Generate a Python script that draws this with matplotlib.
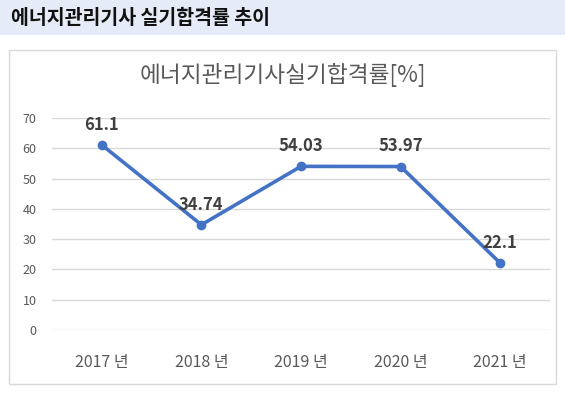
import matplotlib
matplotlib.use('Agg')
import matplotlib.pyplot as plt
from matplotlib.patches import Rectangle

plt.rcParams['font.family'] = ['Noto Sans CJK KR', 'DejaVu Sans']

# ── Data ─────────────────────────────────────────────────────────────────────
years = ['2017 년', '2018 년', '2019 년', '2020 년', '2021 년']
pass_rate = [61.1, 34.74, 54.03, 53.97, 22.1]
rate_labels = ['61.1', '34.74', '54.03', '53.97', '22.1']
y_ticks = [0, 10, 20, 30, 40, 50, 60, 70]

W, H = 565, 396
fig = plt.figure(figsize=(W / 100, H / 100), dpi=100)

# header band
fig.patches.append(Rectangle((0, 1 - 35 / H), 1, 35 / H, transform=fig.transFigure,
                             facecolor='#e6ecf7', edgecolor='none', zorder=0))
fig.text(11 / W, 1 - 18 / H, '에너지관리기사 실기합격률 추이', fontsize=14,
         fontweight='bold', color='#111111', ha='left', va='center')

# chart frame
fig.patches.append(Rectangle((9 / W, 1 - 384 / H), 547 / W, 334 / H, transform=fig.transFigure,
                             facecolor='white', edgecolor='#d9d9d9', linewidth=1, zorder=0))
fig.text(283 / W, 1 - 75 / H, '에너지관리기사실기합격률[%]', fontsize=16.3,
         color='#595959', ha='center', va='center')

# plot area
ax = fig.add_axes([52 / W, 1 - 330 / H, 498 / W, 212 / H])
ax.set_zorder(2)
ax.set_facecolor('none')
x = list(range(len(years)))
ax.plot(x, pass_rate, color='#4472c4', linewidth=2.6, marker='o', markersize=6,
        clip_on=False, zorder=3)

for xi, v, lbl in zip(x, pass_rate, rate_labels):
    ax.annotate(lbl, (xi, v), xytext=(0, 14.5), textcoords='offset points',
                ha='center', va='center', fontsize=12, fontweight='bold',
                color='#404040', zorder=4)

ax.set_xlim(-0.5, len(years) - 0.5)
ax.set_ylim(0, 70)
ax.set_yticks(y_ticks)
ax.set_xticks(x)
ax.set_xticklabels(years)
ax.grid(axis='y', color='#d9d9d9', linewidth=1)
ax.set_axisbelow(True)
for s in ax.spines.values():
    s.set_visible(False)
ax.tick_params(axis='y', length=0, pad=11, labelsize=9, labelcolor='#595959')
ax.tick_params(axis='x', length=0, pad=17, labelsize=11.5, labelcolor='#595959')

fig.savefig('out.png', dpi=100)
